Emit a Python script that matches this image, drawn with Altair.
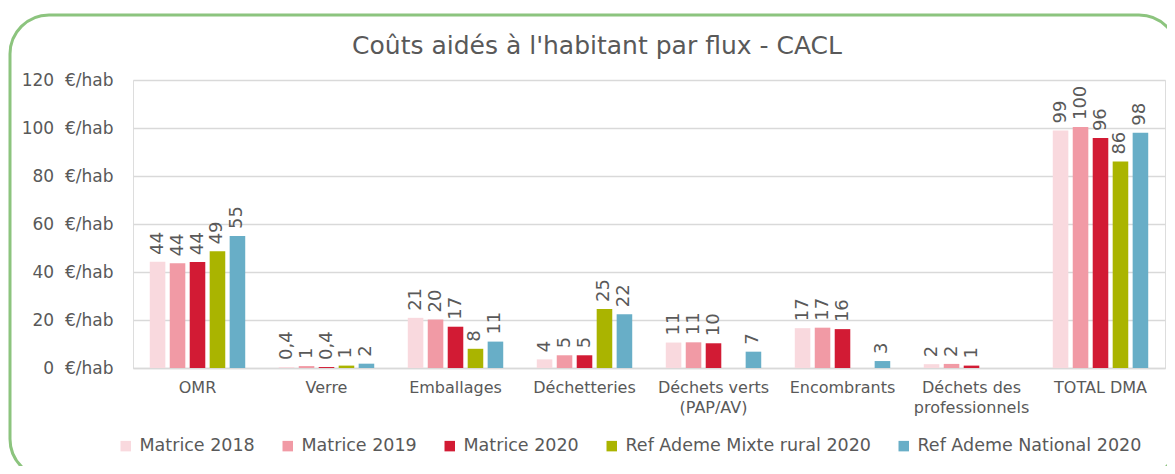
import altair as alt
import pandas as pd

categories = ["OMR", "Verre", "Emballages", "Déchetteries", "Déchets verts|(PAP/AV)",
              "Encombrants", "Déchets des|professionnels", "TOTAL DMA"]
series = ["Matrice 2018", "Matrice 2019", "Matrice 2020",
          "Ref Ademe Mixte rural 2020", "Ref Ademe National 2020"]
colors = ["#F9D9DE", "#F19AA5", "#D21B34", "#AAB400", "#68AEC7"]

matrice_2018 = [44.3, 0.4, 20.9, 3.6, 10.6, 16.6, 1.6, 99.0]
matrice_2019 = [43.6, 0.8, 20.2, 5.3, 10.7, 16.8, 1.7, 100.4]
matrice_2020 = [44.2, 0.4, 17.2, 5.3, 10.3, 16.2, 1.0, 95.8]
ref_mixte_rural = [48.6, 1.0, 8.0, 24.6, None, None, None, 86.0]
ref_national = [55.0, 1.8, 11.0, 22.4, 6.8, 2.9, None, 98.0]

values = [matrice_2018, matrice_2019, matrice_2020, ref_mixte_rural, ref_national]


def fmt(v):
    if v < 0.5:
        return f"{v:.1f}".replace(".", ",")
    return str(int(v + 0.5))


rows = []
for s, vals in zip(series, values):
    for c, v in zip(categories, vals):
        if v is None:
            continue
        rows.append({"cat": c, "series": s, "value": v, "label": fmt(v)})
df = pd.DataFrame(rows)

FONT = "DejaVu Sans"
GREY = "#595959"

x_enc = alt.X("cat:N", sort=categories, title=None,
              scale=alt.Scale(paddingInner=0.26, paddingOuter=0.13),
              axis=alt.Axis(labelAngle=0, labelExpr="split(datum.value, '|')",
                            labelFontSize=16, labelColor=GREY, labelFont=FONT,
                            labelPadding=11, ticks=False, domainColor="#D9D9D9",
                            domainWidth=1.5, labelLineHeight=20))
xoff = alt.XOffset("series:N", sort=series,
                   scale=alt.Scale(paddingInner=0.22, paddingOuter=0.0))
y_enc = alt.Y("value:Q", title=None,
              scale=alt.Scale(domain=[0, 120], nice=False),
              axis=alt.Axis(values=[0, 20, 40, 60, 80, 100, 120],
                            labelExpr="datum.value + '\u00a0 €/hab'", labelFontSize=17,
                            labelColor=GREY, labelFont=FONT, labelPadding=20,
                            ticks=False, domain=False, gridColor="#D9D9D9",
                            gridWidth=1.5))

bars = alt.Chart(df).mark_bar().encode(
    x=x_enc, xOffset=xoff, y=y_enc,
    color=alt.Color("series:N", sort=series,
                    scale=alt.Scale(domain=series, range=colors),
                    legend=alt.Legend(title=None, orient="none", direction="horizontal",
                                      legendX=-16, legendY=357, columns=5,
                                      symbolType="square", symbolSize=110,
                                      symbolStrokeWidth=0, labelFontSize=17.5,
                                      labelColor=GREY, labelFont=FONT, labelLimit=0,
                                      columnPadding=24, labelOffset=5)),
)

labels = alt.Chart(df).mark_text(angle=270, align="left", baseline="middle",
                                 dx=7, fontSize=18, color=GREY, font=FONT).encode(
    x=alt.X("cat:N", sort=categories),
    xOffset=alt.XOffset("series:N", sort=series),
    y=alt.Y("value:Q"),
    text="label:N",
)

frame = alt.Chart(pd.DataFrame({"f": [0]})).mark_rect(
    fill=None, stroke="#8CC47E", strokeWidth=3, cornerRadius=39, clip=False
).encode(x=alt.value(-123), x2=alt.value(1045), y=alt.value(-65), y2=alt.value(398))

chart = alt.layer(frame, bars, labels).properties(
    width=1032, height=288,
    title=alt.TitleParams("Coûts aidés à l'habitant par flux - CACL", fontSize=25,
                          font=FONT, fontWeight="normal", color=GREY, anchor="middle",
                          frame="group", dx=-52, dy=67, offset=22),
    padding={"left": 125, "top": 72, "right": 2, "bottom": 98},
    autosize=alt.AutoSizeParams(type="none"),
).configure_view(stroke=None).configure(background="white")

chart.save("out.html", embed_options={"renderer": "svg", "actions": False})
